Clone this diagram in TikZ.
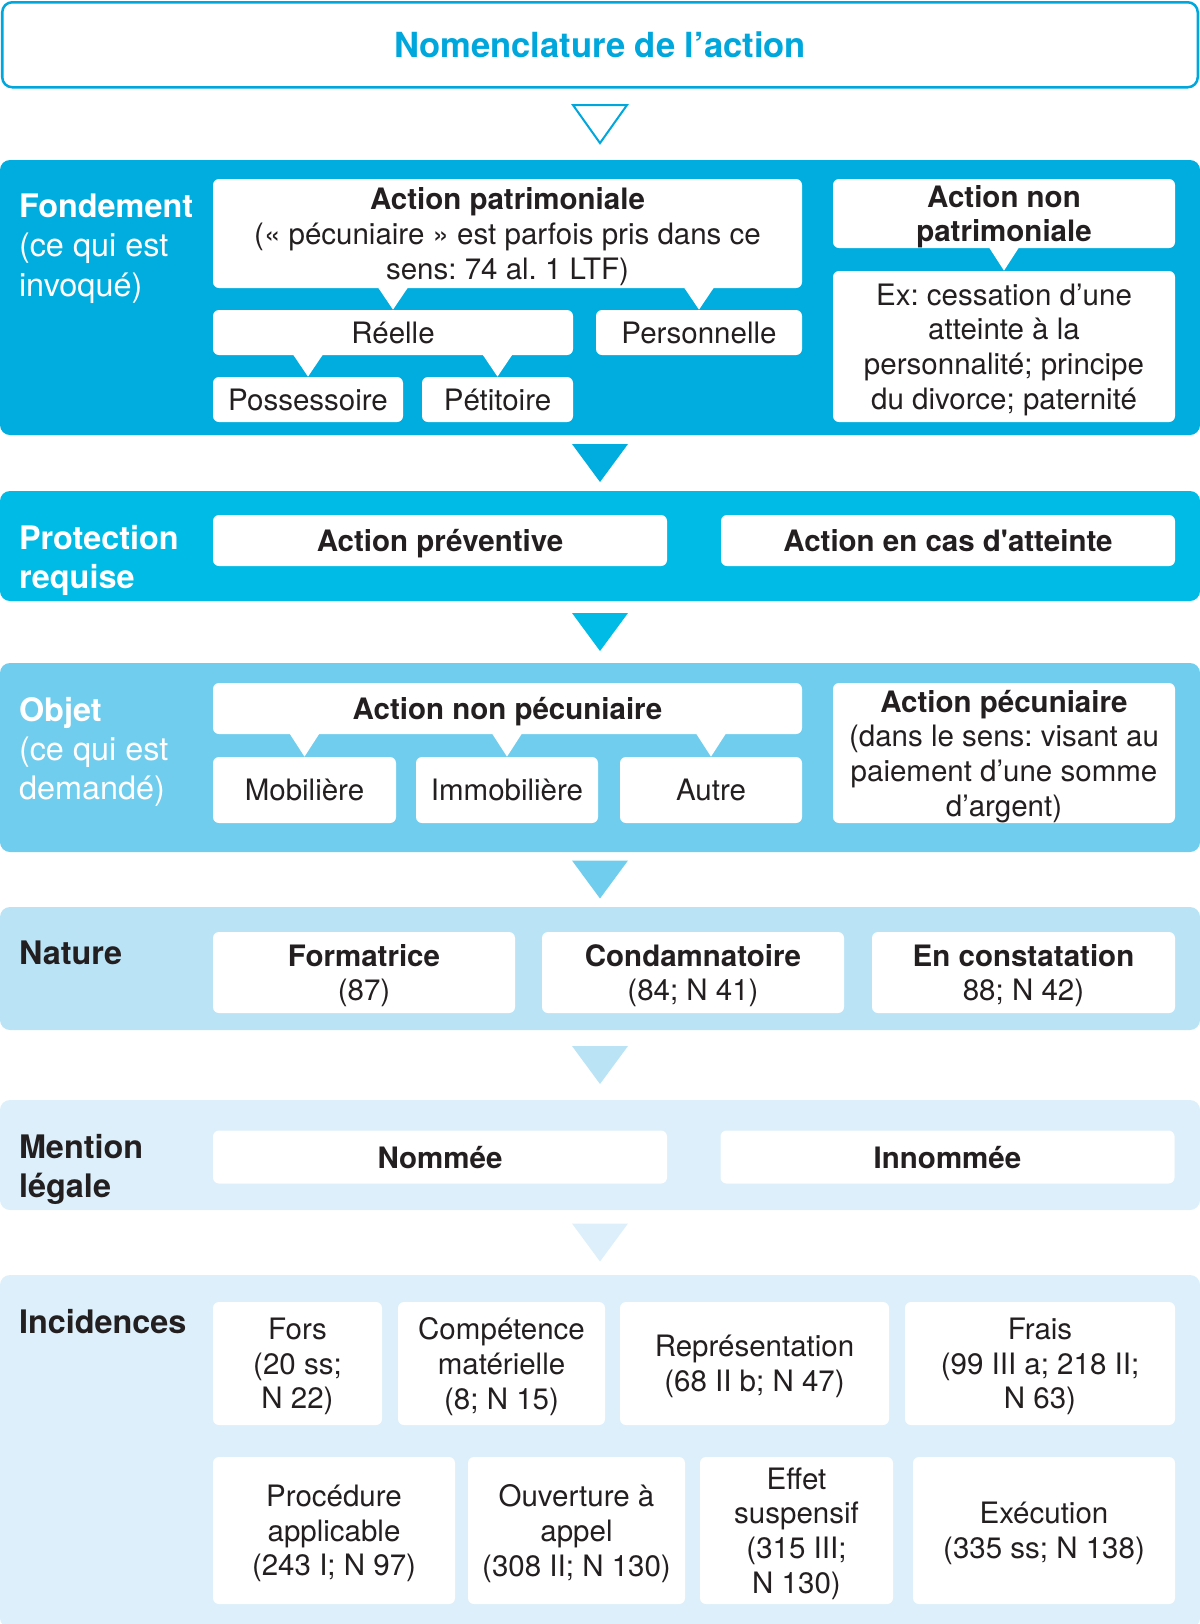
\documentclass[tikz,border=0pt]{standalone}
\usepackage{fontspec}
\setmainfont{TeX Gyre Heros}
\usetikzlibrary{calc}
\frenchspacing

\definecolor{cyantitle}{HTML}{00A7DD}
\definecolor{bandA}{HTML}{00ADDE}
\definecolor{bandB}{HTML}{00BBE5}
\definecolor{bandC}{HTML}{70CDEE}
\definecolor{bandD}{HTML}{BAE4F6}
\definecolor{bandE}{HTML}{DCEFFA}
\definecolor{ink}{HTML}{231F20}

\newcommand{\boxfont}{\fontsize{14.75}{17.35}\selectfont}
\newcommand{\labfont}{\fontsize{16.2}{19.6}\selectfont}

\begin{document}
\begin{tikzpicture}[x=0.5pt,y=-0.5pt,
	band/.style={fill=#1,rounded corners=5pt,minimum width=600pt,inner sep=0},
	box/.style={fill=white,rounded corners=3pt,inner sep=0,align=center,font=\boxfont,text=ink,text depth=0pt},
	lab/.style={anchor=north west,inner sep=0,align=left,font=\labfont}]

\useasboundingbox (0,0) rectangle (1200,1624);

\node [draw=cyantitle,line width=1.25pt,rounded corners=5pt,fill=white,
	minimum width=597.75pt,minimum height=42.5pt,inner sep=0,
	font=\fontsize{17.3}{20}\selectfont\bfseries,text=cyantitle]
	(title) at (600,44.75) {Nomenclature de l’action};

% bands
\node [band=bandA,minimum height=137.5pt] (b1) at (600,297.5) {};
\node [band=bandB,minimum height=55pt] (b2) at (600,546) {};
\node [band=bandC,minimum height=94.5pt] (b3) at (600,757.5) {};
\node [band=bandD,minimum height=61.5pt] (b4) at (600,968.5) {};
\node [band=bandE,minimum height=55pt] (b5) at (600,1155) {};
\node [band=bandE,minimum height=176.5pt] (b6) at (600,1451.5) {};

\draw [cyantitle,line width=1pt] ($(title.south)!0.5!(b1.north)+(-27,-19)$) -- ++(54,0) -- ++(-27,38) -- cycle;

\foreach \a/\b/\c in {b1/b2/bandA,b2/b3/bandB,b3/b4/bandC,b4/b5/bandD,b5/b6/bandE} {
	\fill [\c] ($(\a.south)!0.5!(\b.north)+(-28,-19)$) -- ++(56,0) -- ++(-28,38) -- cycle;
}

\node [lab,text=white] (labA) at ($(b1.north west)+(19,34)$) {\textbf{Fondement}\\(ce qui est\\invoqué)};
\node [lab,text=white] (labB) at ($(b2.north west)+(19,34)$) {\textbf{Protection}\\\textbf{requise}};
\node [lab,text=white] (labC) at ($(b3.north west)+(19,34)$) {\textbf{Objet}\\(ce qui est\\demandé)};
\node [lab,text=ink] (labD) at ($(b4.north west)+(19,34)$) {\textbf{Nature}};
\node [lab,text=ink] (labE) at ($(b5.north west)+(19,34)$) {\textbf{Mention}\\\textbf{légale}};
\node [lab,text=ink] (labF) at ($(b6.north west)+(19,34)$) {\textbf{Incidences}};

% fondement
\node [box,minimum width=294.5pt,minimum height=54.5pt] (patri) at (507.5,233.5)
	{\textbf{Action patrimoniale}\\(« pécuniaire » est parfois pris dans ce\\sens: 74 al. 1 LTF)};
\node [box,minimum width=171pt,minimum height=34.5pt] (nonpatri) at (1004,213.5)
	{\textbf{Action non}\\\textbf{patrimoniale}};
\node [box,minimum width=171pt,minimum height=75.5pt] (ex) at (1004,346.5)
	{Ex: cessation d’une\\atteinte à la\\personnalité; principe\\du divorce; paternité};
\node [box,minimum width=180pt,minimum height=22.5pt] (reelle) at (393,332.5) {Réelle};
\node [box,minimum width=103pt,minimum height=22.5pt] (perso) at (699,332.5) {Personnelle};
\node [box,minimum width=95pt,minimum height=22.5pt] (posse) at (308,399.5) {Possessoire};
\node [box,minimum width=75.5pt,minimum height=22.5pt] (petit) at (497.5,399.5) {Pétitoire};

% protection
\node [box,minimum width=227pt,minimum height=25.5pt] (prev) at (440,540.5) {\textbf{Action préventive}};
\node [box,minimum width=227pt,minimum height=25.5pt] (atte) at (948,540.5) {\textbf{Action en cas d\textquotesingle atteinte}};

% objet
\node [box,minimum width=294.5pt,minimum height=25.5pt] (nonpec) at (507.5,708.5) {\textbf{Action non pécuniaire}};
\node [box,minimum width=91.5pt,minimum height=33pt] (mobi) at (304.5,790) {Mobilière};
\node [box,minimum width=91pt,minimum height=33pt] (immo) at (507,790) {Immobilière};
\node [box,minimum width=91pt,minimum height=33pt] (autre) at (711,790) {Autre};
\node [box,minimum width=171pt,minimum height=70pt] (pec) at (1004,753)
	{\textbf{Action pécuniaire}\\(dans le sens: visant au\\paiement d’une somme\\d’argent)};

\foreach \u/\l in {patri/reelle,patri/perso,reelle/posse,reelle/petit,nonpatri/ex,
	nonpec/mobi,nonpec/immo,nonpec/autre} {
	\fill [white] ($(\l.north |- \u.south)+(-15,-1)$) -- (\l.north) -- ($(\l.north |- \u.south)+(15,-1)$) -- cycle;
}

% nature
\node [box,minimum width=151pt,minimum height=40.5pt] (form) at (364,972.5) {\textbf{Formatrice}\\(87)};
\node [box,minimum width=151pt,minimum height=40.5pt] (cond) at (693,972.5) {\textbf{Condamnatoire}\\(84; N 41)};
\node [box,minimum width=151.5pt,minimum height=40.5pt] (const) at (1023.5,972.5) {\textbf{En constatation}\\88; N 42)};

% mention
\node [box,minimum width=227pt,minimum height=26.5pt] (nommee) at (440,1157) {\textbf{Nommée}};
\node [box,minimum width=227pt,minimum height=26.5pt] (innom) at (947.5,1157) {\textbf{Innommée}};

% incidences
\node [box,minimum width=84.5pt,minimum height=61.5pt] (fors) at (297.5,1363.5) {Fors\\(20 ss;\\N 22)};
\node [box,minimum width=103.5pt,minimum height=61.5pt] (comp) at (501.5,1363.5) {Compétence\\matérielle\\(8; N 15)};
\node [box,minimum width=134.5pt,minimum height=61.5pt] (repr) at (754.5,1363.5) {Représentation\\(68 II b; N 47)};
\node [box,minimum width=135pt,minimum height=61.5pt] (frais) at (1040,1363.5) {Frais\\(99 III a; 218 II;\\N 63)};
\node [box,minimum width=121pt,minimum height=73.5pt] (proc) at (334,1530.5) {Procédure\\applicable\\(243 I; N 97)};
\node [box,minimum width=108.5pt,minimum height=73.5pt] (ouv) at (576.5,1530.5) {Ouverture à\\appel\\(308 II; N 130)};
\node [box,minimum width=96.5pt,minimum height=73.5pt] (effet) at (796.5,1530.5) {Effet\\suspensif\\(315 III;\\N 130)};
\node [box,minimum width=131pt,minimum height=73.5pt] (exec) at (1044,1530.5) {Exécution\\(335 ss; N 138)};

\end{tikzpicture}
\end{document}
